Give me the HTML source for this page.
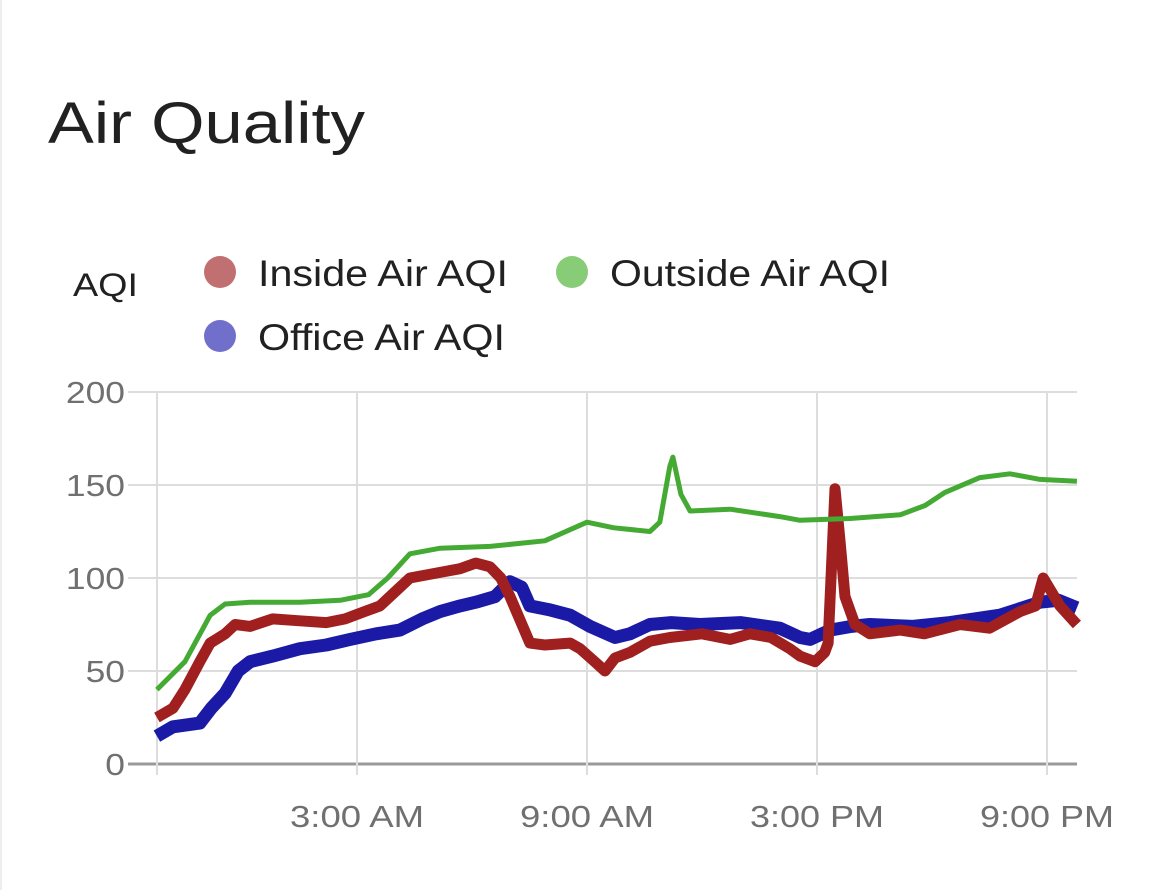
<!DOCTYPE html>
<html><head><meta charset="utf-8"><style>
body{margin:0;background:#fff;width:1170px;height:890px;overflow:hidden;font-family:"Liberation Sans",sans-serif}
svg{position:absolute;left:0;top:0}
</style></head><body>
<svg width="1170" height="890">
<rect x="0" y="0" width="1170" height="890" fill="#fff"/>
<line x1="1" y1="0" x2="1" y2="890" stroke="#eee" stroke-width="2"/>
<text x="48" y="143" font-size="58" textLength="317" lengthAdjust="spacingAndGlyphs" fill="#212121">Air Quality</text>
<text x="73" y="296" font-size="32" textLength="65" lengthAdjust="spacingAndGlyphs" fill="#212121">AQI</text>
<g><circle cx="220" cy="272" r="16" fill="#c07070"/><text x="258" y="286" font-size="37" textLength="250" lengthAdjust="spacingAndGlyphs" fill="#212121">Inside Air AQI</text></g>
<g><circle cx="572" cy="272" r="16" fill="#88cc77"/><text x="610" y="286" font-size="37" textLength="280" lengthAdjust="spacingAndGlyphs" fill="#212121">Outside Air AQI</text></g>
<g><circle cx="220" cy="336" r="16" fill="#7070cc"/><text x="258" y="350" font-size="37" textLength="247" lengthAdjust="spacingAndGlyphs" fill="#212121">Office Air AQI</text></g>
<g id="grid"></g><g id="series"></g><g id="labels"></g>
</svg>
<script>
const yTicks=[0,50,100,150,200];
const xTickHours=[3,9,15,21];
const xTickLabels=["3:00 AM","9:00 AM","3:00 PM","9:00 PM"];
const outsideT=[-2.22,-1.49,-0.83,-0.44,0.21,1.51,2.56,3.3,3.8,4.38,5.17,6.47,7.9,9,9.7,10.64,10.9,11.16,11.24,11.45,11.69,12.73,14.03,14.56,15.86,17.17,17.82,18.34,19.25,20.03,20.82,21.78];
const outsideV=[40,55,80,86,87,87,88,91,100,113,116,117,120,130,127,125,130,160,165,145,136,137,133,131,132,134,139,146,154,156,153,152];
const insideT=[-2.22,-1.8,-1.49,-1.1,-0.83,-0.44,-0.18,0.21,0.8,1.51,2.2,2.69,3.2,3.6,4.12,4.38,5.17,5.69,6.1,6.47,6.75,6.99,7.51,7.9,8.56,8.82,9.2,9.47,9.73,10.12,10.64,11.16,12.0,12.73,13.25,13.8,14.29,14.56,14.95,15.2,15.29,15.47,15.6,15.73,15.99,16.38,17.17,17.8,18.73,19.5,20.3,20.7,20.9,21.34,21.78];
const insideV=[25,30,40,55,65,70,75,74,78,77,76,78,82,85,95,100,103,105,108,106,100,90,65,64,65,62,55,50,57,60,66,68,70,67,70,68,62,58,55,60,65,148,120,90,75,70,72,70,75,73,82,85,100,85,75];
const officeT=[-2.22,-1.8,-1.1,-0.8,-0.44,-0.1,0.21,0.8,1.51,2.2,2.82,3.5,4.12,4.7,5.17,5.69,6.1,6.6,6.99,7.3,7.51,8.0,8.56,9.08,9.73,10.12,10.64,11.2,11.95,13.0,14.03,14.56,14.82,15.34,15.9,16.38,17.5,18.47,19.77,20.82,21.3,21.78];
const officeV=[15,20,22,30,38,50,55,58,62,64,67,70,72,78,82,85,87,90,98,95,85,83,80,74,68,70,75,76,75,76,73,68,67,72,74,75,74,76,80,87,88,84];
const X=t=>357+(t-3)*230/6, Y=v=>764-v*1.86;
const NS="http://www.w3.org/2000/svg";
const grid=document.getElementById('grid'),labels=document.getElementById('labels'),series=document.getElementById('series');
function mk(tag,attrs,parent){const e=document.createElementNS(NS,tag);for(const k in attrs)e.setAttribute(k,attrs[k]);parent.appendChild(e);return e;}
yTicks.forEach(v=>{
 const l=mk('line',{x1:128,x2:1077,y1:Y(v),y2:Y(v),stroke:v===0?'#999':'#ddd','stroke-width':v===0?3:2},grid);
 
 
 const s=String(v);
 const t=mk('text',{x:125,y:Y(v)+11,'text-anchor':'end','font-size':31,fill:'#707070',textLength:s.length*19.7,lengthAdjust:'spacingAndGlyphs'},labels);t.textContent=s;
 
 
});
const vl=mk('line',{x1:157,x2:157,y1:392,y2:775,stroke:'#ddd','stroke-width':2},grid);


xTickHours.forEach((h,i)=>{
 const l=mk('line',{x1:X(h),x2:X(h),y1:392,y2:775,stroke:'#ddd','stroke-width':2},grid);
 
 
 const t=mk('text',{x:X(h)-67,y:827,'font-size':31,fill:'#707070',textLength:134,lengthAdjust:'spacingAndGlyphs'},labels);t.textContent=xTickLabels[i];
 
 
});
function draw(T,V,color,w,name){
 const d=T.map((t,i)=>(i?'L':'M')+X(t).toFixed(1)+','+Y(V[i]).toFixed(1)).join(' ');
 const p=mk('path',{d:d,fill:'none',stroke:color,'stroke-width':w,'stroke-linejoin':'round'},series);
 
 
}
draw(officeT,officeV,'#1a1aa6',13,'office-air-line');
draw(insideT,insideV,'#a02020',11,'inside-air-line');
draw(outsideT,outsideV,'#44aa33',5,'outside-air-line');
</script>
</body></html>
